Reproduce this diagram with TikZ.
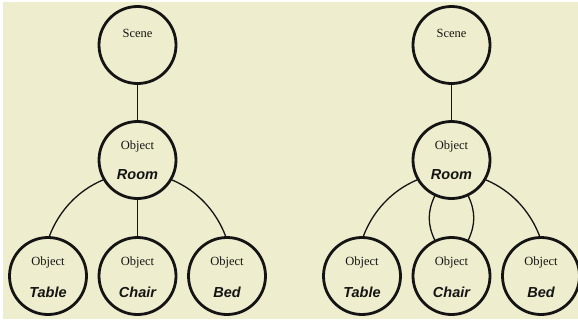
\documentclass[tikz,border=0pt]{standalone}
\usepackage{fontspec}
\setmainfont{Liberation Serif}
\setsansfont{Liberation Sans}
\definecolor{bgbeige}{HTML}{EEEDCD}
\definecolor{ink}{HTML}{141414}
\tikzset{
  obj/.style={circle, draw=ink, line width=2.8pt, minimum size=77pt, inner sep=0pt},
  small/.style={inner sep=0pt, text=ink, font=\fontsize{12.5}{14}\selectfont},
  big/.style={inner sep=0pt, text=ink, font=\sffamily\bfseries\itshape\fontsize{14.5}{16}\selectfont},
  link/.style={draw=ink, line width=1.3pt},
}
\begin{document}
\begin{tikzpicture}[x=1pt,y=-1pt]
\useasboundingbox (0,0) rectangle (578,322);
\fill[white] (0,0) rectangle (578,322);
\fill[bgbeige] (3,2) rectangle (578,319);
% ---------- left panel ----------
\node[obj] (s1) at (137.5,45) {};
\node[obj] (r1) at (137.5,160) {};
\node[obj] (t1) at (48,276) {};
\node[obj] (c1) at (137.5,276) {};
\node[obj] (b1) at (227,276) {};
\node[small] (s1o) at ([yshift=12pt]s1.center) {Scene};
\node[small] (r1o) at ([yshift=13.5pt]r1.center) {Object};
\node[big]   (r1n) at ([yshift=-15pt]r1.center) {Room};
\node[small] (t1o) at ([yshift=14pt]t1.center) {Object};
\node[big]   (t1n) at ([yshift=-16pt]t1.center) {Table};
\node[small] (c1o) at ([yshift=14pt]c1.center) {Object};
\node[big]   (c1n) at ([yshift=-16pt]c1.center) {Chair};
\node[small] (b1o) at ([yshift=14pt]b1.center) {Object};
\node[big]   (b1n) at ([yshift=-16pt]b1.center) {Bed};
\draw[link] (s1) -- (r1);
\draw[link] (r1) -- (c1);
\draw[link] (r1.-150) to[out=203,in=69,looseness=0.9] (t1.88);
\draw[link] (r1.-30) to[out=-23,in=111,looseness=0.9] (b1.92);
% ---------- right panel ----------
\node[obj] (s2) at (451.5,45) {};
\node[obj] (r2) at (451.5,160) {};
\node[obj] (t2) at (362,276) {};
\node[obj] (c2) at (451.5,276) {};
\node[obj] (b2) at (541,276) {};
\node[small] (s2o) at ([yshift=12pt]s2.center) {Scene};
\node[small] (r2o) at ([yshift=13.5pt]r2.center) {Object};
\node[big]   (r2n) at ([yshift=-15pt]r2.center) {Room};
\node[small] (t2o) at ([yshift=14pt]t2.center) {Object};
\node[big]   (t2n) at ([yshift=-16pt]t2.center) {Table};
\node[small] (c2o) at ([yshift=14pt]c2.center) {Object};
\node[big]   (c2n) at ([yshift=-16pt]c2.center) {Chair};
\node[small] (b2o) at ([yshift=14pt]b2.center) {Object};
\node[big]   (b2n) at ([yshift=-16pt]b2.center) {Bed};
\draw[link] (s2) -- (r2);
\draw[link] (r2.-150) to[out=203,in=69,looseness=0.9] (t2.88);
\draw[link] (r2.-30) to[out=-23,in=111,looseness=0.9] (b2.92);
\draw[link] (r2.-115) to[out=-115,in=115] (c2.115);
\draw[link] (r2.-65) to[out=-65,in=65] (c2.65);
\end{tikzpicture}
\end{document}
